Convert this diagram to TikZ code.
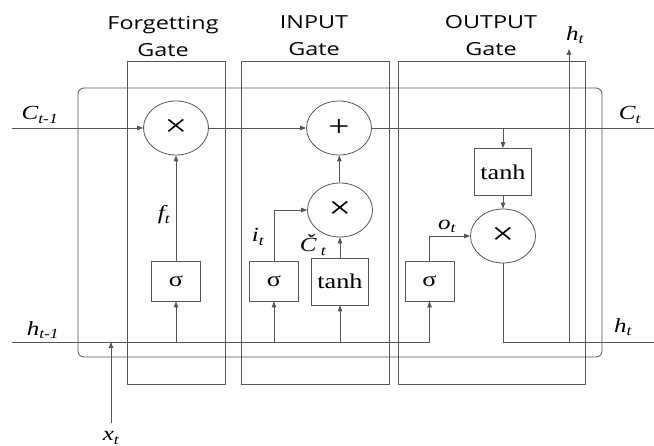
\documentclass[tikz,border=0pt]{standalone}
\usepackage{fontspec}
\setmainfont{Liberation Serif}[FakeStretch=1.25]
\newfontfamily\gatefont{Open Sans}[FakeStretch=1.3]
\usetikzlibrary{shapes.geometric,arrows.meta}
\definecolor{wire}{HTML}{555555}
\begin{document}
\begin{tikzpicture}[x=1pt,y=-1pt,line width=0.8pt,
  wire/.style={draw=wire},
  flow/.style={draw=wire,-{Triangle[length=6pt,width=4.5pt]}},
  op/.style={ellipse,draw=wire,minimum width=65pt,minimum height=54pt,inner sep=0pt,
    font=\fontsize{32}{32}\selectfont},
  fn/.style={rectangle,draw=wire,inner sep=0pt,font=\fontsize{21}{21}\selectfont},
  sig/.style={fn,minimum width=49pt,minimum height=40pt},
  th/.style={fn,minimum width=57pt,minimum height=47pt},
  gatebox/.style={draw=wire},
  title/.style={font=\gatefont\fontsize{18}{27}\selectfont,align=center,inner sep=0pt},
  lab/.style={font=\fontsize{20}{20}\selectfont\itshape,inner sep=0pt}]
\useasboundingbox (0,0) rectangle (654,446);

% gate frames
\draw[gatebox] (127,61) rectangle (225,384);
\draw[gatebox] (241,61) rectangle (389,384);
\draw[gatebox] (398,61) rectangle (585,384);

% cell boundary
\draw[wire,rounded corners=6pt] (78,88) rectangle (602,357);

% gate titles
\node[title] (tf) at (163,36) {Forgetting\\Gate};
\node[title] (ti) at (314,36) {INPUT\\Gate};
\node[title] (to) at (491,36) {OUTPUT\\Gate};

% operators
\node[op] (fx) at (176,128) {×};
\node[op,font=\fontsize{30}{30}\selectfont] (plus) at (339,128) {+};
\node[op] (ix) at (340,210) {×};
\node[op] (ox) at (503,236) {×};

% activation blocks
\node[sig] (fs) at (176,281) {σ};
\node[sig] (is) at (274,281) {σ};
\node[th]  (it) at (340,281.5) {tanh};
\node[sig] (os) at (429.5,281) {σ};
\node[th]  (ot) at (503,172) {tanh};

% wire ends
\coordinate (cin) at (12,128);
\coordinate (cout) at (654,128);
\coordinate (hin) at (12,342);
\coordinate (hout) at (654,342);
\coordinate (xin) at (111,423);
\coordinate (xh) at (111,342);
\coordinate (ctap) at (503,128);
\coordinate (hjoin) at (569,342);
\coordinate (htop) at (569,49);
\coordinate (hend) at (429.5,342);

% cell state path
\draw[flow] (cin) -- (fx);
\draw[flow] (fx) -- (plus);
\draw[wire] (plus) -- (cout);
\draw[flow] (ctap) -- (ot.north);
\draw[flow] (ot) -- (ox);

% hidden state / input path
\draw[wire] (hin) -- (hend);
\draw[flow] (hend) -- (os.south);
\draw[flow] (xin) -- (xh);
\draw[flow] (fs |- hin) -- (fs.south);
\draw[flow] (is |- hin) -- (is.south);
\draw[flow] (it |- hin) -- (it.south);

% gate outputs
\draw[flow] (fs) -- (fx);
\draw[flow] (is.north) |- (ix.west);
\draw[flow] (it) -- (ix);
\draw[flow] (ix) -- (plus);
\draw[flow] (os.north) |- (ox.west);
\draw[wire] (ox.south) |- (hout);
\draw[flow] (hjoin) -- (htop);

% labels
\node[lab] (lc0) at (40,115) {C\textsubscript{t-1}};
\node[lab] (lh0) at (43,330) {h\textsubscript{t-1}};
\node[lab] (lx) at (111,438) {x\textsubscript{t}};
\node[lab] (lf) at (164,215) {f\textsubscript{t}};
\node[lab] (li) at (258,237) {i\textsubscript{t}};
\node[lab] (lcc) at (313,245) {Č\textsubscript{ t}};
\node[lab] (lo) at (447,226) {o\textsubscript{t}};
\node[lab] (lc1) at (630,115) {C\textsubscript{t}};
\node[lab] (lh1) at (575,35) {h\textsubscript{t}};
\node[lab] (lh2) at (623,327) {h\textsubscript{t}};
\end{tikzpicture}
\end{document}
